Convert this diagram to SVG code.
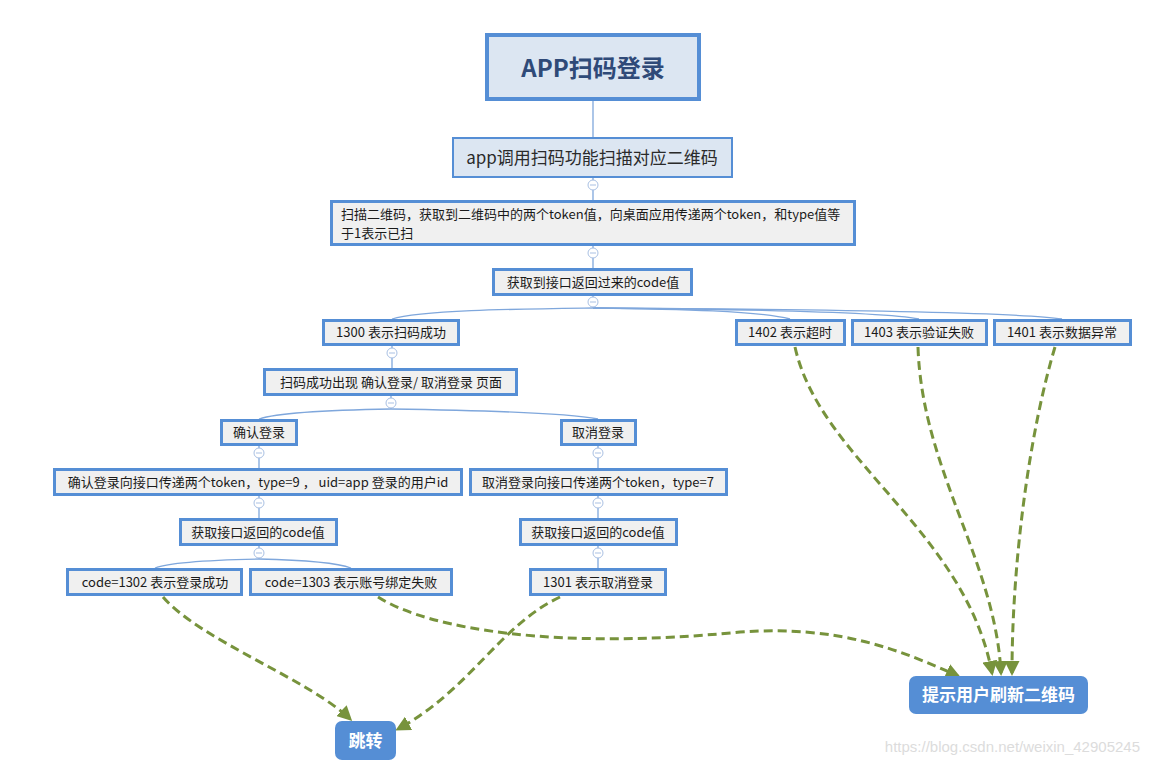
<svg xmlns="http://www.w3.org/2000/svg" width="1150" height="765" viewBox="0 0 1150 765">
<defs>
<style>
.n{fill:#f0f0f0;stroke:#558ed5;stroke-width:3}
.t{font-family:"Noto Sans CJK SC","Liberation Sans",sans-serif;font-size:13px;fill:#1a1a1a;text-anchor:middle}
.c{fill:none;stroke:#7fa7dc;stroke-width:1.3}
.k{fill:#fff;stroke:#a9c0e3;stroke-width:1}
.km{stroke:#a9c0e3;stroke-width:1}
.d{fill:none;stroke:#77933c;stroke-width:3;stroke-dasharray:9,5;marker-end:url(#ah)}
.e{fill:#558ed5}
.et{font-family:"Noto Sans CJK SC","Liberation Sans",sans-serif;font-size:17px;font-weight:bold;fill:#fff;text-anchor:middle}
</style>
<marker id="ah" viewBox="0 0 10 10" refX="8" refY="5" markerWidth="5" markerHeight="5" orient="auto" markerUnits="strokeWidth">
<path d="M0,0 L10,5 L0,10 z" fill="#77933c"/>
</marker>
<g id="knob"><circle r="5" class="k"/><line x1="-3" y1="0" x2="3" y2="0" class="km"/></g>
</defs>
<rect width="1150" height="765" fill="#fff"/>

<g id="connectors">
<line x1="593" y1="101" x2="593" y2="137" class="c"/>
<line x1="593" y1="178" x2="593" y2="200" class="c"/>
<line x1="593" y1="246" x2="593" y2="268" class="c"/>
<line x1="593" y1="296" x2="593" y2="308" class="c"/>
<path d="M593,308 C520,309 420,310 392,319" class="c"/>
<path d="M593,308 C680,309 760,311 790,319" class="c"/>
<path d="M593,308 C720,309 880,311 919,319" class="c"/>
<path d="M593,308 C760,309 1010,311 1062,319" class="c"/>
<line x1="392" y1="346" x2="392" y2="368" class="c"/>
<line x1="391" y1="396" x2="391" y2="409" class="c"/>
<path d="M391,409 C330,410 280,412 259,419" class="c"/>
<path d="M391,409 C460,410 560,412 598,419" class="c"/>
<line x1="259" y1="446" x2="259" y2="468" class="c"/>
<line x1="259" y1="496" x2="259" y2="518" class="c"/>
<line x1="259" y1="546" x2="259" y2="559" class="c"/>
<path d="M259,559 C210,560 170,562 155,568" class="c"/>
<path d="M259,559 C300,560 335,562 351,568" class="c"/>
<line x1="598" y1="446" x2="598" y2="468" class="c"/>
<line x1="598" y1="496" x2="598" y2="518" class="c"/>
<line x1="598" y1="546" x2="598" y2="568" class="c"/>
<use href="#knob" x="593" y="185"/>
<use href="#knob" x="593" y="253"/>
<use href="#knob" x="593" y="302"/>
<use href="#knob" x="392" y="353"/>
<use href="#knob" x="391" y="403"/>
<use href="#knob" x="259" y="453"/>
<use href="#knob" x="259" y="503"/>
<use href="#knob" x="259" y="553"/>
<use href="#knob" x="598" y="453"/>
<use href="#knob" x="598" y="503"/>
<use href="#knob" x="598" y="553"/>
<path d="M163,597 C200,640 310,680 350,719" class="d"/>
<path d="M560,597 C500,625 470,690 398,729" class="d"/>
<path d="M378,597 C430,630 560,650 740,632 C840,625 900,650 958,676" class="d"/>
<path d="M795,347 C820,460 965,530 992,673" class="d"/>
<path d="M918,347 C922,470 995,560 1001,673" class="d"/>
<path d="M1055,347 C1030,430 1012,560 1012,673" class="d"/>
</g>

<g id="n1"><rect x="487" y="35" width="212" height="64" fill="#dce6f2" stroke="#558ed5" stroke-width="4"/><text x="593" y="77" class="t" style="font-size:24px;font-weight:bold;fill:#2f4a78">APP扫码登录</text></g>
<g id="n2"><rect x="453" y="138" width="279" height="39" fill="#dce6f2" stroke="#558ed5" stroke-width="2"/><text x="592" y="164" class="t" style="font-size:17px;fill:#2a2a2a">app调用扫码功能扫描对应二维码</text></g>
<g id="n3"><rect x="331.5" y="201.5" width="523" height="43" class="n"/><text x="341" y="219" class="t" style="text-anchor:start">扫描二维码，获取到二维码中的两个token值，向桌面应用传递两个token，和type值等</text><text x="341" y="238" class="t" style="text-anchor:start">于1表示已扫</text></g>
<g id="n4"><rect x="493.5" y="269.5" width="198" height="25" class="n"/><text x="593" y="287" class="t">获取到接口返回过来的code值</text></g>
<g id="n5"><rect x="323.5" y="320.5" width="135" height="24" class="n"/><text x="391" y="337" class="t">1300 表示扫码成功</text></g>
<g id="n6"><rect x="736.5" y="320.5" width="108" height="24" class="n"/><text x="790" y="337" class="t">1402 表示超时</text></g>
<g id="n7"><rect x="852.5" y="320.5" width="134" height="24" class="n"/><text x="919" y="337" class="t">1403 表示验证失败</text></g>
<g id="n8"><rect x="994.5" y="320.5" width="136" height="24" class="n"/><text x="1062" y="337" class="t">1401 表示数据异常</text></g>
<g id="n9"><rect x="264.5" y="369.5" width="252" height="25" class="n"/><text x="391" y="387" class="t">扫码成功出现 确认登录/ 取消登录 页面</text></g>
<g id="n10"><rect x="221.5" y="420.5" width="75" height="24" class="n"/><text x="259" y="437" class="t">确认登录</text></g>
<g id="n11"><rect x="561.5" y="420.5" width="74" height="24" class="n"/><text x="598" y="437" class="t">取消登录</text></g>
<g id="n12"><rect x="54.5" y="469.5" width="407" height="25" class="n"/><text x="258" y="487" class="t">确认登录向接口传递两个token，type=9 ， uid=app 登录的用户id</text></g>
<g id="n13"><rect x="470.5" y="469.5" width="256" height="25" class="n"/><text x="598" y="487" class="t">取消登录向接口传递两个token，type=7</text></g>
<g id="n14"><rect x="180.5" y="519.5" width="156" height="25" class="n"/><text x="258" y="537" class="t">获取接口返回的code值</text></g>
<g id="n15"><rect x="520.5" y="519.5" width="156" height="25" class="n"/><text x="598" y="537" class="t">获取接口返回的code值</text></g>
<g id="n16"><rect x="67.5" y="569.5" width="174" height="25" class="n"/><text x="155" y="587" class="t">code=1302 表示登录成功</text></g>
<g id="n17"><rect x="250.5" y="569.5" width="201" height="25" class="n"/><text x="351" y="587" class="t">code=1303 表示账号绑定失败</text></g>
<g id="n18"><rect x="530.5" y="569.5" width="135" height="25" class="n"/><text x="598" y="587" class="t">1301 表示取消登录</text></g>
<g id="n19"><rect x="335" y="721" width="61" height="39" rx="7" class="e"/><text x="365.5" y="747" class="et">跳转</text></g>
<g id="n20"><rect x="909" y="676" width="179" height="38" rx="7" class="e"/><text x="998.5" y="701" class="et">提示用户刷新二维码</text></g>
<text x="1140" y="752" style="font-family:'Liberation Sans',sans-serif;font-size:15px;fill:#dcdcdc;text-anchor:end">https://blog.csdn.net/weixin_42905245</text>
</svg>
